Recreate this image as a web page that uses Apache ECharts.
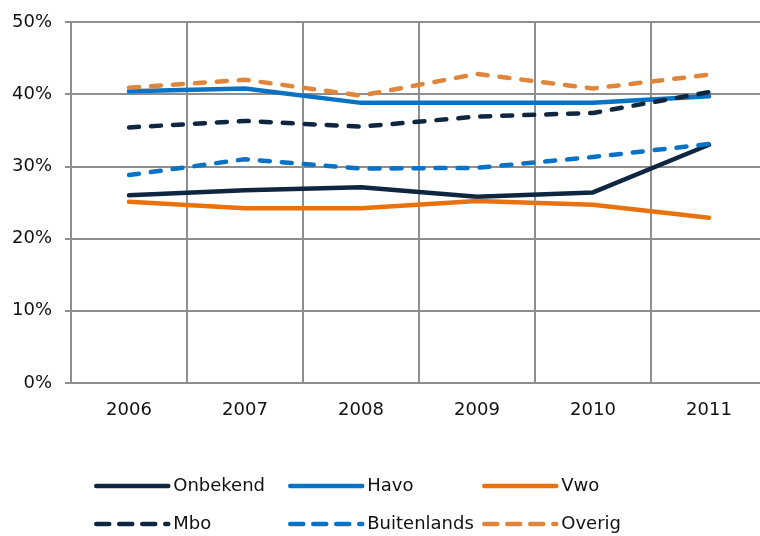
<!DOCTYPE html>
<html>
<head>
<meta charset="utf-8">
<script src="https://cdn.jsdelivr.net/npm/echarts@6/dist/echarts.min.js"></script>
<style>html,body{margin:0;padding:0;background:#fff}#c{width:760px;height:536px}</style>
</head>
<body>
<div id="c"></div>
<script>
const years = ['2006', '2007', '2008', '2009', '2010', '2011'];
const onbekend = [26.0, 26.7, 27.1, 25.8, 26.4, 33.0];
const havo = [40.4, 40.8, 38.8, 38.8, 38.8, 39.7];
const vwo = [25.1, 24.2, 24.2, 25.2, 24.7, 22.9];
const mbo = [35.4, 36.3, 35.5, 36.9, 37.4, 40.3];
const buitenlands = [28.8, 31.0, 29.7, 29.8, 31.3, 33.1];
const overig = [40.9, 42.0, 39.8, 42.8, 40.8, 42.7];
const yTicks = { min: 0, max: 50, interval: 10 };

const navy = '#0f2641', blue = '#0a72c4', orange = '#e8720f', lightOrange = '#df863c';
const FONT = "'DejaVu Sans', Verdana, sans-serif";

const seriesDefs = [
  { name: 'Onbekend', data: onbekend, color: navy, dashed: false, col: 0, row: 0 },
  { name: 'Havo', data: havo, color: blue, dashed: false, col: 1, row: 0 },
  { name: 'Vwo', data: vwo, color: orange, dashed: false, col: 2, row: 0 },
  { name: 'Mbo', data: mbo, color: navy, dashed: true, col: 0, row: 1 },
  { name: 'Buitenlands', data: buitenlands, color: blue, dashed: true, col: 1, row: 1 },
  { name: 'Overig', data: overig, color: lightOrange, dashed: true, col: 2, row: 1 }
];
const colX = [94, 288, 482];
const rowY = [487, 525];

const chart = echarts.init(document.getElementById('c'), null, { renderer: 'canvas' });
chart.setOption({
  animation: false,
  backgroundColor: '#fff',
  grid: { left: 71, top: 22, width: 696, height: 361, containLabel: false, outerBoundsMode: 'none' },
  xAxis: {
    type: 'category',
    data: years,
    boundaryGap: true,
    axisLine: { show: true, lineStyle: { color: '#8e8e8e', width: 2 } },
    axisTick: { show: false },
    splitLine: { show: true, lineStyle: { color: '#8e8e8e', width: 2 } },
    axisLabel: { color: '#111', fontFamily: FONT, fontSize: 18, margin: 18 }
  },
  yAxis: {
    type: 'value',
    min: yTicks.min, max: yTicks.max, interval: yTicks.interval,
    axisLine: { show: true, lineStyle: { color: '#8e8e8e', width: 2 } },
    axisTick: { show: true, length: 6, lineStyle: { color: '#8e8e8e', width: 2 } },
    splitLine: { show: true, lineStyle: { color: '#8e8e8e', width: 2 } },
    axisLabel: { color: '#111', fontFamily: FONT, fontSize: 18, margin: 19, formatter: '{value}%' }
  },
  legend: seriesDefs.map(s => ({
    data: [s.name],
    left: colX[s.col],
    top: rowY[s.row] - 10,
    padding: 0,
    itemWidth: 72,
    itemHeight: 14,
    itemGap: 0,
    selectedMode: false,
    itemStyle: { opacity: 0 },
    lineStyle: { width: 4.5, cap: 'round', type: s.dashed ? [13, 10] : 'solid' },
    textStyle: { color: '#111', fontFamily: FONT, fontSize: 18 }
  })),
  series: seriesDefs.map(s => ({
    name: s.name,
    type: 'line',
    data: s.data,
    symbol: 'none',
    smooth: false,
    color: s.color,
    lineStyle: { color: s.color, width: 4.5, cap: 'round', join: 'round', type: s.dashed ? [10, 12] : 'solid' }
  }))
});
</script>
</body>
</html>
